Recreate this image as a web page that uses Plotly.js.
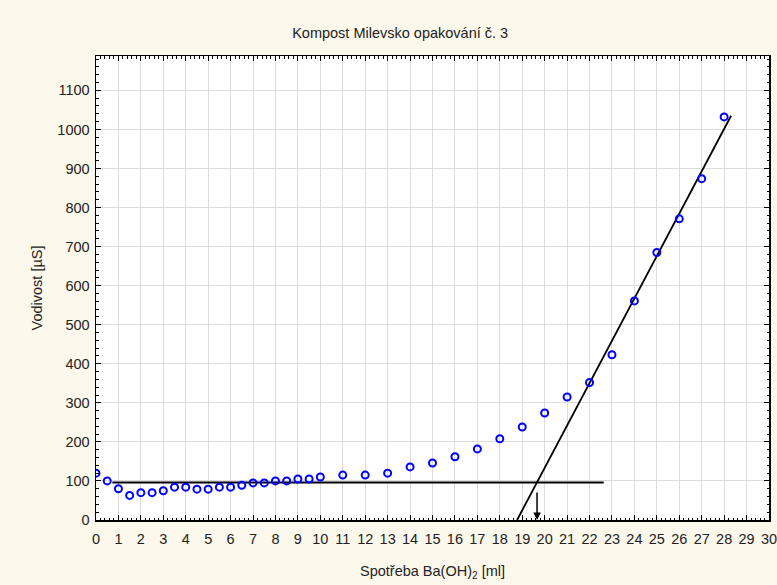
<!DOCTYPE html>
<html>
<head>
<meta charset="utf-8">
<script src="https://cdn.plot.ly/plotly-3.0.1.min.js"></script>
<style>html,body{margin:0;padding:0;background:#fdf8ec;}#chart{width:777px;height:585px;}</style>
</head>
<body>
<div id="chart"></div>
<script>
// Measured points (Spotřeba Ba(OH)2 [ml] vs Vodivost [µS])
const xVals = [0,0.5,1,1.5,2,2.5,3,3.5,4,4.5,5,5.5,6,6.5,7,7.5,8,8.5,9,9.5,10,
               11,12,13,14,15,16,17,18,19,20,21,22,23,24,25,26,27,28];
const yVals = [120,100,80,63,70,70,75,84,84,79,79,84,84,89,95,95,100,100,105,105,110,
               115,115,120,136,146,162,182,208,238,274,315,352,423,561,685,771,874,1032];
// Fitted lines
const baseLineX = [0.73, 22.63];
const baseLineY = [96, 96];
const steepLineX = [18.77, 28.31];
const steepLineY = [0, 1035];
// Equivalence point (arrow)
const eqX = 19.66;
const eqY = 96;
// Ticks
const xTicks = [0,1,2,3,4,5,6,7,8,9,10,11,12,13,14,15,16,17,18,19,20,21,22,23,24,25,26,27,28,29,30];
const yTicks = [0,100,200,300,400,500,600,700,800,900,1000,1100];

const font = 'Arial, "Liberation Sans", sans-serif';

const traces = [
  {x: baseLineX, y: baseLineY, mode: 'lines', line: {color: '#000', width: 1.8}, hoverinfo: 'skip'},
  {x: steepLineX, y: steepLineY, mode: 'lines', line: {color: '#000', width: 1.8}, hoverinfo: 'skip'},
  {x: xVals, y: yVals, mode: 'markers',
   marker: {symbol: 'circle-open', size: 7, color: '#0000ff', line: {width: 2, color: '#0000ff'}}}
];

const axisCommon = {
  showline: true, linecolor: '#000', linewidth: 1.5, mirror: 'allticks',
  ticks: 'inside', ticklen: 5, tickwidth: 1, tickcolor: '#000',
  showgrid: true, gridcolor: '#dcdcdc', gridwidth: 1,
  zeroline: false, tickfont: {family: font, size: 14.5, color: '#222'},
  ticklabeloverflow: 'allow', fixedrange: true
};

const layout = {
  width: 777, height: 585,
  paper_bgcolor: '#fdf8ec', plot_bgcolor: '#ffffff',
  margin: {l: 96, r: 8, t: 56, b: 65},
  showlegend: false,
  title: {text: 'Kompost Milevsko opakování č. 3', font: {family: font, size: 14.5, color: '#222'},
          x: 0.515, xref: 'container', xanchor: 'center', y: 0.944, yref: 'container', yanchor: 'middle'},
  xaxis: Object.assign({}, axisCommon, {
    range: [0, 30], tickvals: xTicks, ticktext: xTicks.map(String), ticklabelstandoff: 5,
    minor: {dtick: 0.2, ticks: 'inside', ticklen: 2.5, tickcolor: '#000', showgrid: false},
    title: {text: 'Spotřeba Ba(OH)<sub>2</sub> [ml]', font: {family: font, size: 14.5, color: '#222'}, standoff: 20}
  }),
  yaxis: Object.assign({}, axisCommon, {
    range: [0, 1188], tickvals: yTicks, ticktext: yTicks.map(String), ticklabelstandoff: 2,
    minor: {dtick: 20, ticks: 'inside', ticklen: 2.5, tickcolor: '#000', showgrid: false},
    title: {text: 'Vodivost [µS]', font: {family: font, size: 14.5, color: '#222'}, standoff: 11}
  }),
  annotations: [{
    x: eqX, y: 0, ax: eqX, ay: eqY, xref: 'x', yref: 'y', axref: 'x', ayref: 'y',
    text: ' ', showarrow: true, arrowhead: 2, arrowsize: 1, arrowwidth: 1.5, arrowcolor: '#000'
  }]
};

Plotly.newPlot('chart', traces, layout, {displayModeBar: false, staticPlot: true});
</script>
</body>
</html>
